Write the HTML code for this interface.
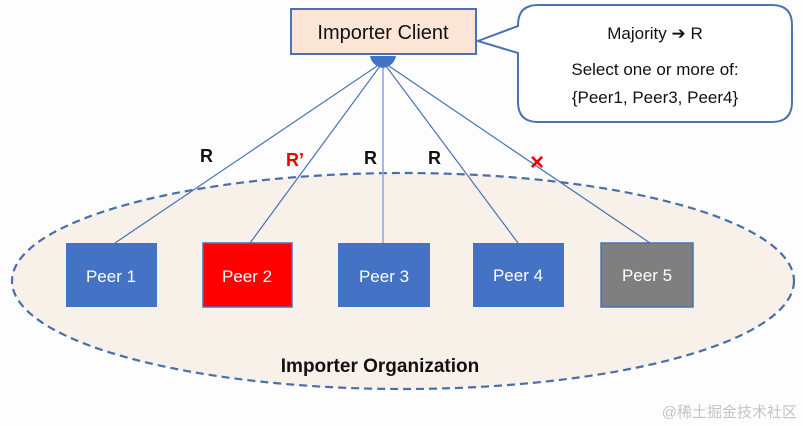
<!DOCTYPE html>
<html><head><meta charset="utf-8"><style>
html,body{margin:0;padding:0;background:#fdfdfd;}
svg{display:block;font-family:"Liberation Sans","Noto Sans CJK SC",sans-serif;}
</style></head><body>
<svg width="803" height="426" viewBox="0 0 803 426" xmlns="http://www.w3.org/2000/svg">
<rect width="803" height="426" fill="#fdfdfd"/>
<ellipse cx="403" cy="281" rx="391" ry="108" fill="#f8f1ea" stroke="#4a6fa8" stroke-width="2.2" stroke-dasharray="8,5"/>
<g stroke="#4a72b4" stroke-width="1.2">
<line x1="383" y1="62" x2="115" y2="243"/>
<line x1="383" y1="62" x2="250" y2="243"/>
<line x1="383" y1="62" x2="383" y2="243" stroke="#8faadc" stroke-width="1.6"/>
<line x1="383" y1="62" x2="518" y2="243"/>
<line x1="383" y1="62" x2="650" y2="243"/>
</g>
<path d="M370 56 L396 56 Q394 66 383 68 Q372 66 370 56 Z" fill="#4472c4"/>
<rect x="291" y="9" width="185" height="45" fill="#fbe5d6" stroke="#4a72b4" stroke-width="2"/>
<text x="383" y="39" text-anchor="middle" font-size="20" fill="#111">Importer Client</text>
<path d="M538 5 H772 Q792 5 792 25 V102 Q792 122 772 122 H538 Q518 122 518 102 V53 L478 41 L518 26 V25 Q518 5 538 5 Z" fill="#fff" stroke="#4a72b4" stroke-width="2"/>
<text x="655" y="39" text-anchor="middle" font-size="17" fill="#111">Majority ➔ R</text>
<text x="655" y="75" text-anchor="middle" font-size="17" fill="#111">Select one or more of:</text>
<text x="655" y="103" text-anchor="middle" font-size="17" fill="#111">{Peer1, Peer3, Peer4}</text>
<g font-weight="bold" font-size="18">
<text x="200" y="162" fill="#111">R</text>
<text x="286" y="166" fill="#e00">R’</text>
<text x="364" y="164" fill="#111">R</text>
<text x="428" y="164" fill="#111">R</text>
<text x="530" y="170" fill="#e00" font-size="24">×</text>
</g>
<rect x="66" y="243" width="91" height="64" fill="#4472c4"/>
<rect x="203" y="243" width="89" height="64" fill="#ff0000" stroke="#4a72b4" stroke-width="1.5"/>
<rect x="338" y="243" width="92" height="64" fill="#4472c4"/>
<rect x="473" y="243" width="91" height="64" fill="#4472c4"/>
<rect x="601" y="243" width="92" height="64" fill="#7f7f7f" stroke="#4a72b4" stroke-width="1.5"/>
<g fill="#fff" font-size="17" text-anchor="middle">
<text x="111" y="282">Peer 1</text>
<text x="247" y="282">Peer 2</text>
<text x="384" y="282">Peer 3</text>
<text x="518" y="281">Peer 4</text>
<text x="647" y="281">Peer 5</text>
</g>
<text x="380" y="372" text-anchor="middle" font-size="19" font-weight="bold" fill="#111">Importer Organization</text>
<text x="797" y="417" text-anchor="end" font-size="15" fill="#c4c4c4">@稀土掘金技术社区</text>
</svg>
</body></html>
